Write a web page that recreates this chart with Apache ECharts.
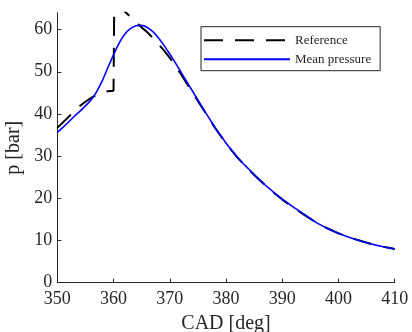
<!DOCTYPE html>
<html>
<head>
<meta charset="utf-8">
<script src="https://cdn.jsdelivr.net/npm/echarts@6/dist/echarts.min.js"></script>
<style>
  html, body { margin: 0; padding: 0; background: #fff; }
  #chart { width: 412px; height: 332px; }
</style>
</head>
<body>
<div id="chart"></div>
<script>
// mean pressure (blue)
const cad = [350, 351, 352, 353, 354, 355, 356, 357, 358, 359, 360, 361, 362, 363, 364, 365, 366, 367, 368, 369,
  370, 371, 372, 373, 374, 375, 376, 377, 378, 379, 380, 381, 382, 383, 384, 385, 386, 387, 388, 389,
  390, 392, 394, 396, 398, 400, 402, 404, 406, 408, 410];
const meanPressure = [35.6, 36.8, 38.1, 39.4, 40.6, 41.9, 43.3, 45.3, 47.9, 51.0, 54.0, 56.8, 58.9, 60.2, 60.9, 61.0, 60.5, 59.5, 58.0, 56.2,
  54.2, 52.1, 49.9, 47.7, 45.5, 43.3, 41.1, 39.0, 36.9, 35.0, 33.1, 31.4, 29.8, 28.3, 27.0, 25.6, 24.4, 23.1, 22.0, 20.8,
  19.8, 17.9, 16.1, 14.3, 12.9, 11.7, 10.7, 9.9, 9.1, 8.5, 8.0];

// reference (black dashed)
const refCad = [350, 351, 352, 353, 354, 355, 356, 357, 358, 359, 360, 360.15, 361, 362, 363, 364, 365, 366, 367, 368, 369,
  370, 371, 372, 373, 374, 375, 376, 377, 378, 379, 380, 382, 384, 386, 388,
  390, 392, 394, 396, 398, 400, 402, 404, 406, 408, 410];
const refPressure = [36.7, 38.0, 39.3, 40.6, 41.9, 42.9, 43.8, 44.5, 45.0, 45.4, 45.5, 70.0, 67.0, 64.3, 63.0, 61.8, 60.5, 59.4, 58.0, 56.5, 55.0,
  53.3, 51.4, 49.4, 47.3, 45.2, 43.1, 41.0, 38.9, 36.8, 34.9, 33.0, 29.7, 26.9, 24.3, 21.9,
  19.7, 17.8, 16.0, 14.3, 12.9, 11.7, 10.7, 9.9, 9.1, 8.5, 8.0];

const xTicks = [350, 360, 370, 380, 390, 400, 410];
const yTicks = [0, 10, 20, 30, 40, 50, 60];

const zip = (xs, ys) => xs.map((x, i) => [x, ys[i]]);

const ink = '#262626';
const font = 'Liberation Serif';

const chart = echarts.init(document.getElementById('chart'), null, { renderer: 'canvas' });

const option = {
  animation: false,
  backgroundColor: '#fff',
  grid: { left: 57.3, right: 17.3, top: 12.7, bottom: 49.3, outerBoundsMode: 'none' },
  legend: {
    left: 201,
    top: 26.7,
    orient: 'vertical',
    padding: [7, 9, 5, 2],
    itemWidth: 86,
    itemHeight: 14,
    itemGap: 6,
    borderColor: ink,
    borderWidth: 1,
    backgroundColor: '#fff',
    itemStyle: { opacity: 0 },
    textStyle: { fontFamily: font, fontSize: 13, color: ink },
    data: ['Reference', 'Mean pressure']
  },
  xAxis: {
    type: 'value',
    min: 350,
    max: 410,
    interval: 10,
    name: 'CAD [deg]',
    nameLocation: 'middle',
    nameGap: 29,
    nameTextStyle: { fontFamily: font, fontSize: 20, color: ink },
    axisLine: { lineStyle: { color: ink, width: 1 } },
    axisTick: { inside: true, length: 4, lineStyle: { color: ink }, customValues: xTicks },
    axisLabel: { fontFamily: font, fontSize: 18, color: ink, margin: 8, customValues: xTicks },
    splitLine: { show: false }
  },
  yAxis: {
    type: 'value',
    min: 0,
    max: 64,
    interval: 10,
    name: 'p [bar]',
    nameLocation: 'middle',
    nameGap: 34,
    nameTextStyle: { fontFamily: font, fontSize: 20, color: ink },
    axisLine: { show: true, lineStyle: { color: ink, width: 1 } },
    axisTick: { show: true, inside: true, length: 4, lineStyle: { color: ink }, customValues: yTicks },
    axisLabel: { fontFamily: font, fontSize: 18, color: ink, margin: 5, customValues: yTicks },
    splitLine: { show: false }
  },
  series: [
    {
      name: 'Reference',
      type: 'line',
      data: zip(refCad, refPressure),
      showSymbol: false,
      symbol: 'none',
      clip: true,
      lineStyle: { color: '#000', width: 2, type: [19, 12] },
      itemStyle: { color: '#000' },
      z: 2
    },
    {
      name: 'Mean pressure',
      type: 'line',
      data: zip(cad, meanPressure),
      smooth: 0.3,
      showSymbol: false,
      symbol: 'none',
      clip: true,
      lineStyle: { color: '#0000ff', width: 1.6 },
      itemStyle: { color: '#0000ff' },
      z: 3
    }
  ]
};

chart.setOption(option);
</script>
</body>
</html>
